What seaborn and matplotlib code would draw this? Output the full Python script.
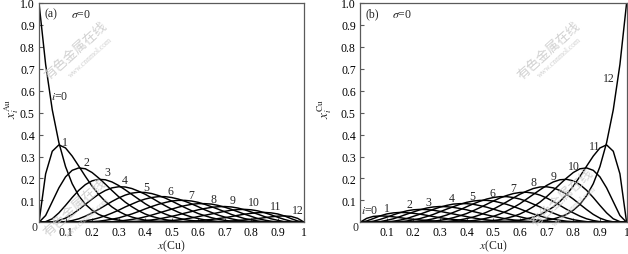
import matplotlib
matplotlib.use("Agg")
import matplotlib.pyplot as plt
import pandas as pd
import seaborn as sns

# ---------------- data ----------------
x_cu = [0.000, 0.025, 0.050, 0.075, 0.100, 0.125, 0.150, 0.175, 0.200, 0.225,
        0.250, 0.275, 0.300, 0.325, 0.350, 0.375, 0.400, 0.425, 0.450, 0.475,
        0.500, 0.525, 0.550, 0.575, 0.600, 0.625, 0.650, 0.675, 0.700, 0.725,
        0.750, 0.775, 0.800, 0.825, 0.850, 0.875, 0.900, 0.925, 0.950, 0.975,
        1.000]

# panel (a): x_i^Au
au_0 = [1.000, 0.720, 0.513, 0.363, 0.254, 0.176, 0.121, 0.082, 0.055, 0.036, 0.024, 0.015, 0.010, 0.006, 0.004, 0.002, 0.001, 0.001, 0, 0, 0,
        0, 0, 0, 0, 0, 0, 0, 0, 0, 0, 0, 0, 0, 0, 0, 0, 0, 0, 0, 0]
au_1 = [0, 0.221, 0.324, 0.353, 0.339, 0.302, 0.256, 0.209, 0.165, 0.127, 0.095, 0.070, 0.050, 0.035, 0.024, 0.016, 0.010, 0.007, 0.004, 0.002, 0.001,
        0.001, 0, 0, 0, 0, 0, 0, 0, 0, 0, 0, 0, 0, 0, 0, 0, 0, 0, 0, 0]
au_2 = [0, 0.031, 0.094, 0.157, 0.207, 0.237, 0.248, 0.244, 0.227, 0.202, 0.174, 0.145, 0.117, 0.092, 0.071, 0.053, 0.038, 0.027, 0.019, 0.012, 0.008,
        0.005, 0.003, 0.002, 0.001, 0.001, 0, 0, 0, 0, 0, 0, 0, 0, 0, 0, 0, 0, 0, 0, 0]
au_3 = [0, 0.003, 0.016, 0.043, 0.077, 0.113, 0.146, 0.172, 0.189, 0.196, 0.194, 0.184, 0.168, 0.148, 0.127, 0.106, 0.085, 0.067, 0.051, 0.038, 0.027,
        0.019, 0.012, 0.008, 0.005, 0.003, 0.002, 0.001, 0, 0, 0, 0, 0, 0, 0, 0, 0, 0, 0, 0, 0]
au_4 = [0, 0, 0.002, 0.008, 0.019, 0.036, 0.058, 0.082, 0.106, 0.128, 0.145, 0.157, 0.162, 0.161, 0.154, 0.142, 0.128, 0.111, 0.093, 0.076, 0.060,
        0.046, 0.034, 0.024, 0.017, 0.011, 0.007, 0.004, 0.002, 0.001, 0.001, 0, 0, 0, 0, 0, 0, 0, 0, 0, 0]
au_5 = [0, 0, 0, 0.001, 0.003, 0.008, 0.016, 0.028, 0.043, 0.059, 0.077, 0.095, 0.111, 0.124, 0.133, 0.137, 0.136, 0.131, 0.122, 0.111, 0.097,
        0.082, 0.067, 0.053, 0.040, 0.030, 0.021, 0.014, 0.009, 0.005, 0.003, 0.001, 0.001, 0, 0, 0, 0, 0, 0, 0, 0]
au_6 = [0, 0, 0, 0, 0, 0.001, 0.003, 0.007, 0.012, 0.020, 0.030, 0.042, 0.055, 0.070, 0.083, 0.096, 0.106, 0.113, 0.117, 0.117, 0.113,
        0.106, 0.096, 0.084, 0.071, 0.057, 0.045, 0.033, 0.024, 0.016, 0.010, 0.006, 0.003, 0.001, 0.001, 0, 0, 0, 0, 0, 0]
au_7 = [0, 0, 0, 0, 0, 0, 0.001, 0.001, 0.003, 0.005, 0.009, 0.014, 0.020, 0.029, 0.038, 0.049, 0.061, 0.072, 0.082, 0.090, 0.097,
        0.100, 0.100, 0.097, 0.091, 0.082, 0.071, 0.060, 0.048, 0.036, 0.026, 0.017, 0.011, 0.006, 0.003, 0.001, 0, 0, 0, 0, 0]
au_8 = [0, 0, 0, 0, 0, 0, 0, 0, 0, 0.001, 0.002, 0.003, 0.005, 0.009, 0.013, 0.018, 0.025, 0.033, 0.042, 0.051, 0.060,
        0.069, 0.076, 0.082, 0.085, 0.085, 0.083, 0.077, 0.069, 0.059, 0.048, 0.037, 0.027, 0.017, 0.010, 0.005, 0.002, 0.001, 0, 0, 0]
au_9 = [0, 0, 0, 0, 0, 0, 0, 0, 0, 0, 0, 0.001, 0.001, 0.002, 0.003, 0.005, 0.007, 0.011, 0.015, 0.021, 0.027,
        0.034, 0.042, 0.049, 0.057, 0.063, 0.068, 0.071, 0.072, 0.070, 0.065, 0.057, 0.047, 0.037, 0.026, 0.016, 0.009, 0.003, 0.001, 0, 0]
au_10 = [0, 0, 0, 0, 0, 0, 0, 0, 0, 0, 0, 0, 0, 0, 0.001, 0.001, 0.001, 0.002, 0.004, 0.006, 0.008,
         0.011, 0.015, 0.020, 0.026, 0.032, 0.038, 0.044, 0.050, 0.055, 0.058, 0.059, 0.057, 0.052, 0.044, 0.034, 0.023, 0.013, 0.005, 0.001, 0]
au_11 = [0, 0, 0, 0, 0, 0, 0, 0, 0, 0, 0, 0, 0, 0, 0, 0, 0, 0, 0.001, 0.001, 0.001,
         0.002, 0.003, 0.005, 0.007, 0.010, 0.013, 0.017, 0.021, 0.026, 0.032, 0.037, 0.041, 0.044, 0.045, 0.043, 0.038, 0.029, 0.017, 0.006, 0]
au_12 = [0, 0, 0, 0, 0, 0, 0, 0, 0, 0, 0, 0, 0, 0, 0, 0, 0, 0, 0, 0, 0,
         0, 0, 0.001, 0.001, 0.001, 0.002, 0.003, 0.004, 0.006, 0.008, 0.011, 0.014, 0.017, 0.021, 0.025, 0.028, 0.029, 0.027, 0.018, 0]

# panel (b): x_i^Cu
cu_0 = [0, 0.018, 0.027, 0.029, 0.028, 0.025, 0.021, 0.017, 0.014, 0.011, 0.008, 0.006, 0.004, 0.003, 0.002, 0.001, 0.001, 0.001, 0, 0, 0,
        0, 0, 0, 0, 0, 0, 0, 0, 0, 0, 0, 0, 0, 0, 0, 0, 0, 0, 0, 0]
cu_1 = [0, 0.006, 0.017, 0.029, 0.038, 0.043, 0.045, 0.044, 0.041, 0.037, 0.032, 0.026, 0.021, 0.017, 0.013, 0.010, 0.007, 0.005, 0.003, 0.002, 0.001,
        0.001, 0.001, 0, 0, 0, 0, 0, 0, 0, 0, 0, 0, 0, 0, 0, 0, 0, 0, 0, 0]
cu_2 = [0, 0.001, 0.005, 0.013, 0.023, 0.034, 0.044, 0.052, 0.057, 0.059, 0.058, 0.055, 0.050, 0.044, 0.038, 0.032, 0.026, 0.020, 0.015, 0.011, 0.008,
        0.006, 0.004, 0.002, 0.001, 0.001, 0.001, 0, 0, 0, 0, 0, 0, 0, 0, 0, 0, 0, 0, 0, 0]
cu_3 = [0, 0, 0.001, 0.003, 0.009, 0.016, 0.026, 0.037, 0.047, 0.057, 0.065, 0.070, 0.072, 0.071, 0.068, 0.063, 0.057, 0.049, 0.042, 0.034, 0.027,
        0.021, 0.015, 0.011, 0.007, 0.005, 0.003, 0.002, 0.001, 0.001, 0, 0, 0, 0, 0, 0, 0, 0, 0, 0, 0]
cu_4 = [0, 0, 0, 0.001, 0.002, 0.005, 0.010, 0.017, 0.027, 0.037, 0.048, 0.059, 0.069, 0.077, 0.083, 0.085, 0.085, 0.082, 0.076, 0.069, 0.060,
        0.051, 0.042, 0.033, 0.025, 0.018, 0.013, 0.009, 0.005, 0.003, 0.002, 0.001, 0, 0, 0, 0, 0, 0, 0, 0, 0]
cu_5 = [0, 0, 0, 0, 0, 0.001, 0.003, 0.006, 0.011, 0.017, 0.026, 0.036, 0.048, 0.060, 0.071, 0.082, 0.091, 0.097, 0.100, 0.100, 0.097,
        0.090, 0.082, 0.072, 0.061, 0.049, 0.038, 0.029, 0.020, 0.014, 0.009, 0.005, 0.003, 0.001, 0.001, 0, 0, 0, 0, 0, 0]
cu_6 = [0, 0, 0, 0, 0, 0, 0.001, 0.001, 0.003, 0.006, 0.010, 0.016, 0.024, 0.033, 0.045, 0.057, 0.071, 0.084, 0.096, 0.106, 0.113,
        0.117, 0.117, 0.113, 0.106, 0.096, 0.083, 0.070, 0.055, 0.042, 0.030, 0.020, 0.012, 0.007, 0.003, 0.001, 0, 0, 0, 0, 0]
cu_7 = [0, 0, 0, 0, 0, 0, 0, 0, 0.001, 0.001, 0.003, 0.005, 0.009, 0.014, 0.021, 0.030, 0.040, 0.053, 0.067, 0.082, 0.097,
        0.111, 0.122, 0.131, 0.136, 0.137, 0.133, 0.124, 0.111, 0.095, 0.077, 0.059, 0.043, 0.028, 0.016, 0.008, 0.003, 0.001, 0, 0, 0]
cu_8 = [0, 0, 0, 0, 0, 0, 0, 0, 0, 0, 0.001, 0.001, 0.002, 0.004, 0.007, 0.011, 0.017, 0.024, 0.034, 0.046, 0.060,
        0.076, 0.093, 0.111, 0.128, 0.142, 0.154, 0.161, 0.162, 0.157, 0.145, 0.128, 0.106, 0.082, 0.058, 0.036, 0.019, 0.008, 0.002, 0, 0]
cu_9 = [0, 0, 0, 0, 0, 0, 0, 0, 0, 0, 0, 0, 0, 0.001, 0.002, 0.003, 0.005, 0.008, 0.012, 0.019, 0.027,
        0.038, 0.051, 0.067, 0.085, 0.106, 0.127, 0.148, 0.168, 0.184, 0.194, 0.196, 0.189, 0.172, 0.146, 0.113, 0.077, 0.043, 0.016, 0.003, 0]
cu_10 = [0, 0, 0, 0, 0, 0, 0, 0, 0, 0, 0, 0, 0, 0, 0, 0.001, 0.001, 0.002, 0.003, 0.005, 0.008,
         0.012, 0.019, 0.027, 0.038, 0.053, 0.071, 0.092, 0.117, 0.145, 0.174, 0.202, 0.227, 0.244, 0.248, 0.237, 0.207, 0.157, 0.094, 0.031, 0]
cu_11 = [0, 0, 0, 0, 0, 0, 0, 0, 0, 0, 0, 0, 0, 0, 0, 0, 0, 0, 0, 0.001, 0.001,
         0.002, 0.004, 0.007, 0.010, 0.016, 0.024, 0.035, 0.050, 0.070, 0.095, 0.127, 0.165, 0.209, 0.256, 0.302, 0.339, 0.353, 0.324, 0.221, 0]
cu_12 = [0, 0, 0, 0, 0, 0, 0, 0, 0, 0, 0, 0, 0, 0, 0, 0, 0, 0, 0, 0, 0,
         0, 0, 0.001, 0.001, 0.002, 0.004, 0.006, 0.010, 0.015, 0.024, 0.036, 0.055, 0.082, 0.121, 0.176, 0.254, 0.363, 0.513, 0.720, 1.000]

curve_ids = ["0", "1", "2", "3", "4", "5", "6", "7", "8", "9", "10", "11", "12"]
au_series = [au_0, au_1, au_2, au_3, au_4, au_5, au_6, au_7, au_8, au_9, au_10, au_11, au_12]
cu_series = [cu_0, cu_1, cu_2, cu_3, cu_4, cu_5, cu_6, cu_7, cu_8, cu_9, cu_10, cu_11, cu_12]

# curve labels (text, x, y) as placed in the reference
labels_a = [("$i$=0", 0.079, 0.577), ("1", 0.098, 0.368), ("2", 0.177, 0.276), ("3", 0.259, 0.228),
            ("4", 0.324, 0.193), ("5", 0.406, 0.160), ("6", 0.494, 0.144), ("7", 0.572, 0.124),
            ("8", 0.657, 0.106), ("9", 0.730, 0.102), ("10", 0.810, 0.094), ("11", 0.891, 0.073),
            ("12", 0.975, 0.057)]
labels_b = [("$i$=0", 0.037, 0.057), ("1", 0.102, 0.064), ("2", 0.187, 0.083), ("3", 0.256, 0.091),
            ("4", 0.343, 0.109), ("5", 0.422, 0.121), ("6", 0.496, 0.134), ("7", 0.576, 0.155),
            ("8", 0.652, 0.185), ("9", 0.726, 0.213), ("10", 0.804, 0.258), ("11", 0.879, 0.349),
            ("12", 0.935, 0.657)]

xticks = [0.1, 0.2, 0.3, 0.4, 0.5, 0.6, 0.7, 0.8, 0.9, 1.0]
xtick_labels = ["0.1", "0.2", "0.3", "0.4", "0.5", "0.6", "0.7", "0.8", "0.9", "1"]
yticks = [0.1, 0.2, 0.3, 0.4, 0.5, 0.6, 0.7, 0.8, 0.9, 1.0]
ytick_labels = ["0.1", "0.2", "0.3", "0.4", "0.5", "0.6", "0.7", "0.8", "0.9", "1.0"]


def long_table(series):
    rows = []
    for cid, ys in zip(curve_ids, series):
        for xv, yv in zip(x_cu, ys):
            rows.append((cid, xv, yv))
    return pd.DataFrame(rows, columns=["i", "x", "y"])


# ---------------- style ----------------
sns.set_style("ticks")
plt.rcParams["font.family"] = ["Liberation Serif", "DejaVu Serif"]
plt.rcParams["mathtext.fontset"] = "stix"
FS = 8.5
FRAME = "#5a5a5a"

W, H = 628.0, 255.0
fig = plt.figure(figsize=(6.28, 2.55), dpi=100)
ax_a = fig.add_axes([39 / W, 31.7 / H, 265.3 / W, 219.3 / H])
ax_b = fig.add_axes([360 / W, 31.7 / H, 266.6 / W, 219.3 / H])

panels = [
    (ax_a, au_series, labels_a, "(a)", r"$x_i^{\mathrm{Au}}$", -0.068),
    (ax_b, cu_series, labels_b, "(b)", r"$x_i^{\mathrm{Cu}}$", -0.098),
]

for ax, series, labels, tag, ylab, ylab_x in panels:
    df = long_table(series)
    sns.lineplot(data=df, x="x", y="y", hue="i", hue_order=curve_ids,
                 palette=["black"] * len(curve_ids), estimator=None, sort=False,
                 legend=False, linewidth=1.05, ax=ax)
    ax.set_xlim(0, 1)
    ax.set_ylim(0, 1)
    ax.set_xticks(xticks)
    ax.set_xticklabels(xtick_labels)
    ax.set_yticks(yticks)
    ax.set_yticklabels(ytick_labels)
    ax.tick_params(direction="in", length=3, width=0.8, color=FRAME,
                   labelsize=FS, labelcolor="black", pad=3)
    for sp in ax.spines.values():
        sp.set_color(FRAME)
        sp.set_linewidth(0.9)
        sp.set_visible(True)
    ax.set_xlabel(r"$x$(Cu)", fontsize=FS)
    ax.xaxis.set_label_coords(0.5, -0.072)
    ax.set_ylabel(ylab, fontsize=FS + 1)
    ax.yaxis.set_label_coords(ylab_x, 0.52)
    ax.text(-0.016, -0.022, "0", transform=ax.transAxes, ha="center", va="center", fontsize=FS)
    ax.text(0.045, 0.952, tag, transform=ax.transAxes, ha="center", va="center", fontsize=FS)
    ax.text(0.158, 0.952, r"$\sigma$=0", transform=ax.transAxes, ha="center", va="center", fontsize=FS)
    for txt, lx, ly in labels:
        ax.text(lx, ly, txt, ha="center", va="center", fontsize=FS, zorder=5)

# faint watermark of the source site
wm_font = ["Noto Sans CJK SC", "DejaVu Sans"]
for cx, cy, wx, wy, z in [(76, 51, 91, 58, 1), (549, 51, 560, 58, 1), (75, 208, 88, 218, 6), (562, 198, 575, 207, 6)]:
    fig.text(cx / W, 1 - cy / H, "有色金属在线", rotation=42, ha="center", va="center",
             fontsize=9.5, color="#c9c9c9", alpha=0.85, family=wm_font, zorder=z)
    fig.text(wx / W, 1 - wy / H, "www.cnnmol.com", rotation=42, ha="center", va="center",
             fontsize=5.5, color="#c9c9c9", alpha=0.85, family=["Liberation Serif"], zorder=z)

fig.savefig("out.png", dpi=100)
